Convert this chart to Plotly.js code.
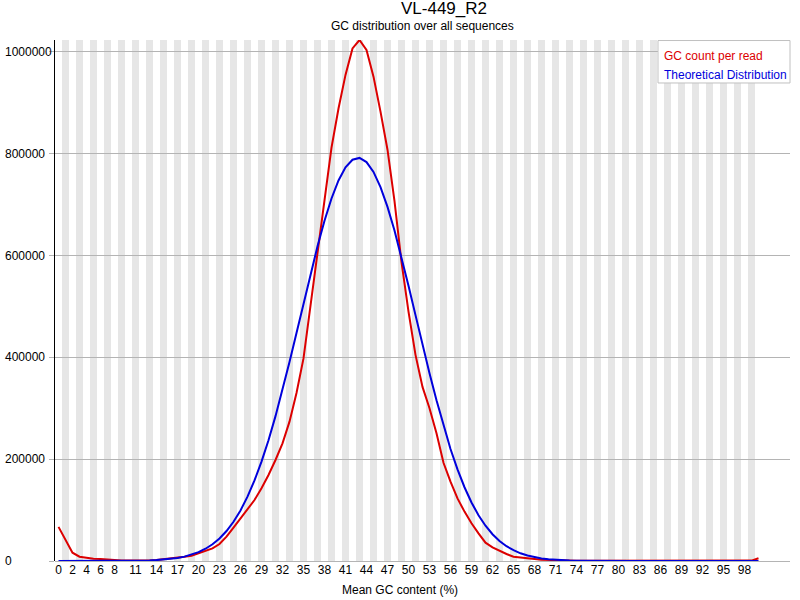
<!DOCTYPE html>
<html>
<head>
<meta charset="utf-8">
<script src="https://cdn.plot.ly/plotly-3.0.1.min.js"></script>
<style>
body { margin: 0; background: #fff; }
#chart { width: 800px; height: 600px; }
</style>
</head>
<body>
<div id="chart"></div>
<script>
// GC content bins 0..100 %
var gcBins = Array.from({length: 101}, function (_, i) { return i; });

var countPerRead = [
  67000, 42600, 16300, 8500, 5900, 4500, 3900, 2600, 1500, 1000,
  800, 700, 800, 1200, 2000, 3300, 4600, 5900, 8500, 10500,
  15100, 19600, 24900, 33400, 47800, 65500, 83800, 101500, 119800, 142800,
  169000, 198400, 231200, 273700, 330000, 398000, 500000, 598000, 703000, 812000,
  889000, 955000, 1007000, 1023500, 1004000, 951500, 882700, 808000, 707000, 587000,
  490000, 405000, 342000, 300000, 251000, 193000, 155800, 123000, 97000, 74000,
  54400, 36000, 26900, 19600, 13800, 8500, 6500, 5200, 3900, 2600,
  1900, 1200, 800, 500, 400, 300, 250, 200, 150, 120,
  100, 90, 80, 70, 60, 50, 50, 40, 40, 30,
  30, 30, 20, 20, 20, 20, 20, 30, 50, 800,
  5500
];

var theoretical = [
  1, 2, 3, 6, 11, 20, 36, 62, 106, 178,
  290, 470, 740, 1150, 1800, 2700, 4000, 5900, 8600, 12300,
  17300, 24100, 32900, 44200, 58900, 77000, 99400, 126400, 158300, 195300,
  237300, 284600, 336000, 390800, 447800, 506200, 563700, 618200, 668600, 712200,
  747600, 773400, 788300, 791800, 783700, 764300, 734500, 695700, 649200, 596700,
  540900, 483000, 425000, 368800, 315600, 265200, 219900, 179900, 144900, 115000,
  89900, 69300, 52600, 39400, 29100, 21200, 15100, 10700, 7400, 5100,
  3400, 2300, 1500, 970, 620, 390, 240, 145, 87, 51,
  29, 16, 9, 5, 2, 1, 0, 0, 0, 0,
  0, 0, 0, 0, 0, 0, 0, 0, 0, 0,
  0
];

var xTickLabels = [0, 2, 4, 6, 8, 11, 14, 17, 20, 23, 26, 29, 32, 35, 38, 41, 44, 47,
  50, 53, 56, 59, 62, 65, 68, 71, 74, 77, 80, 83, 86, 89, 92, 95, 98];
var yTickValues = [0, 200000, 400000, 600000, 800000, 1000000];

var FONT = 'Liberation Sans, Arial, sans-serif';
var RED = 'rgb(220,0,0)';
var BLUE = 'rgb(0,0,220)';

var traces = [
  {
    x: gcBins, y: countPerRead, type: 'scatter', mode: 'lines',
    name: 'GC count per read', line: {color: RED, width: 2}
  },
  {
    x: gcBins, y: theoretical, type: 'scatter', mode: 'lines',
    name: 'Theoretical Distribution', line: {color: BLUE, width: 2}
  }
];

// alternating grey background stripes, one per odd bin
var shapes = [];
gcBins.forEach(function (b) {
  if (b % 2 === 1) {
    shapes.push({
      type: 'rect', layer: 'below', xref: 'x', yref: 'paper',
      x0: b - 0.5, x1: b + 0.5, y0: 0, y1: 1,
      fillcolor: '#e6e6e6', line: {width: 0}
    });
  }
});

// legend box
shapes.push({
  type: 'rect', layer: 'above', xref: 'paper', yref: 'paper',
  x0: 0.8204, x1: 1.0, y0: 0.9175, y1: 0.999,
  fillcolor: '#ffffff', line: {color: '#c0c0c0', width: 1}
});

function label(text, x, y, xanchor, size, color) {
  return {
    text: text, xref: 'paper', yref: 'paper', x: x, y: y,
    xanchor: xanchor, yanchor: 'middle', showarrow: false,
    font: {family: FONT, size: size, color: color}
  };
}

var annotations = [
  label('VL-449_R2', 0.529, 1.0605, 'center', 17, '#000'),
  label('GC distribution over all sequences', 0.5, 1.0278, 'center', 12, '#000'),
  label('Mean GC content (%)', 0.469, -0.0557, 'center', 12, '#000'),
  label('GC count per read', 0.8252, 0.9702, 'left', 12, RED),
  label('Theoretical Distribution', 0.8252, 0.9319, 'left', 12, BLUE)
];

// y tick labels, left aligned like the original
yTickValues.forEach(function (v) {
  annotations.push({
    text: String(v), xref: 'paper', yref: 'y', x: -0.0707, y: v,
    xanchor: 'left', yanchor: 'middle', showarrow: false,
    font: {family: FONT, size: 12, color: '#000'}
  });
});

var layout = {
  width: 800, height: 600, autosize: false,
  margin: {l: 55, r: 10, t: 40, b: 39, pad: 0},
  paper_bgcolor: '#ffffff', plot_bgcolor: '#ffffff',
  showlegend: false,
  font: {family: FONT, size: 12, color: '#000'},
  xaxis: {
    range: [-0.5, 104.5], tickvals: xTickLabels,
    ticktext: xTickLabels.map(String), ticks: '',
    showgrid: false, zeroline: false, showline: false,
    tickfont: {family: FONT, size: 12, color: '#000'}
  },
  yaxis: {
    range: [0, 1023500], tickvals: yTickValues, showticklabels: false,
    ticks: 'outside', ticklen: 5, tickcolor: '#b4b4b4',
    showgrid: true, gridcolor: '#b4b4b4', gridwidth: 1,
    zeroline: true, zerolinecolor: '#b4b4b4', zerolinewidth: 1,
    showline: true, linecolor: '#000', linewidth: 1
  },
  shapes: shapes,
  annotations: annotations
};

Plotly.newPlot('chart', traces, layout, {displayModeBar: false, staticPlot: true});
</script>
</body>
</html>
